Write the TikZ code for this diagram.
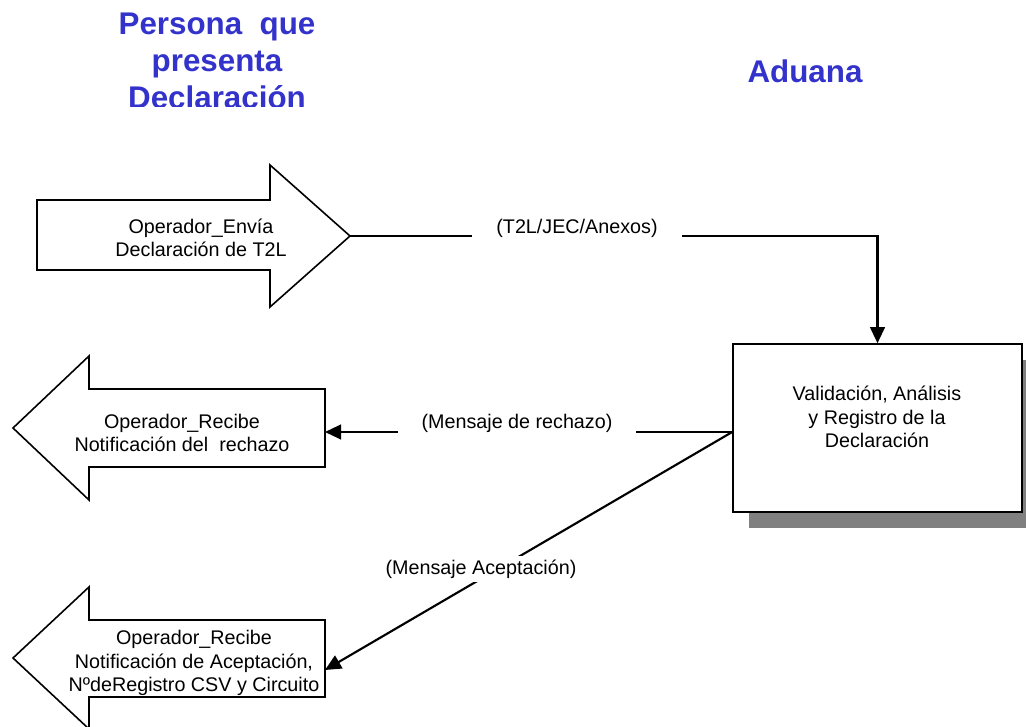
\documentclass[tikz,border=0pt]{standalone}
\usepackage{fontspec}
\setmainfont{Liberation Sans}
\usetikzlibrary{arrows.meta, shadows}
\definecolor{azultit}{RGB}{51,51,204}
\tikzset{
  forma/.style={draw, line width=1.2pt, fill=white},
  texto/.style={align=center, inner sep=0pt, font=\fontsize{14.8}{17.5}\selectfont},
  titulo/.style={align=center, inner sep=0pt, text=azultit, font=\fontsize{23.5}{27.75}\selectfont\bfseries},
  flujo/.style={line width=1.6pt, -{Triangle[length=12pt, width=11pt]}},
  etiqueta/.style={fill=white, inner xsep=18pt, inner ysep=3pt, font=\fontsize{14.8}{17.5}\selectfont},
}

\begin{document}
\begin{tikzpicture}[x=0.75pt, y=-0.75pt]
    \useasboundingbox (0,0) rectangle (1026,727);
    \clip (0,0) rectangle (1026,727);

    % titulos
    \begin{scope}
        \clip (0,0) rectangle (450,107);
        \node [titulo, anchor=north] (persona) at (217,13) {Persona~ que\\presenta\\Declaración};
    \end{scope}
    \node [titulo, anchor=north] (aduana) at (805,60) {Aduana};

    % flechas del operador
    \draw [forma] (37,200) -- (270,200) -- (270,165) -- (350,236) -- (270,307) -- (270,270) -- (37,270) -- cycle;
    \node [texto] (envia) at (201,238) {Operador\_Envía\\Declaración de T2L};
    \coordinate (enviaTip) at (350,236);

    \draw [forma] (13,428) -- (89,356) -- (89,389) -- (325,389) -- (325,467) -- (89,467) -- (89,500) -- cycle;
    \node [texto] (rechazo) at (182,433) {Operador\_Recibe\\Notificación del~ rechazo};
    \coordinate (rechazoIn) at (325,432);

    \draw [forma] (13,658) -- (89,587) -- (89,620) -- (325,620) -- (325,697) -- (89,697) -- (89,729) -- cycle;
    \node [texto] (acepta) at (194,663) {Operador\_Recibe\\Notificación de Aceptación,\\NºdeRegistro CSV y Circuito};
    \coordinate (aceptaIn) at (325,670);

    % aduana
    \node [draw, line width=1.2pt, fill=white, minimum width=216.75pt, minimum height=126pt,
           drop shadow={shadow xshift=12pt, shadow yshift=-12pt, fill=black!50, opacity=1}]
           (registro) at (877.5,428) {};
    \node [texto] (registroTxt) at (877,417) {Validación, Análisis\\y Registro de la\\Declaración};
    \coordinate (salida) at (registro.west |- rechazoIn);

    % mensajes
    \draw [flujo] (enviaTip) -| (registro.north);
    \node [etiqueta] (anexos) at (577,228) {(T2L/JEC/Anexos)};

    \draw [flujo] (salida) -- (rechazoIn);
    \node [etiqueta] (msgRechazo) at (517,423) {(Mensaje de rechazo)};

    \draw [flujo] (salida) -- (aceptaIn);
    \node [etiqueta] (msgAcepta) at (481,569) {(Mensaje Aceptación)};
\end{tikzpicture}
\end{document}
